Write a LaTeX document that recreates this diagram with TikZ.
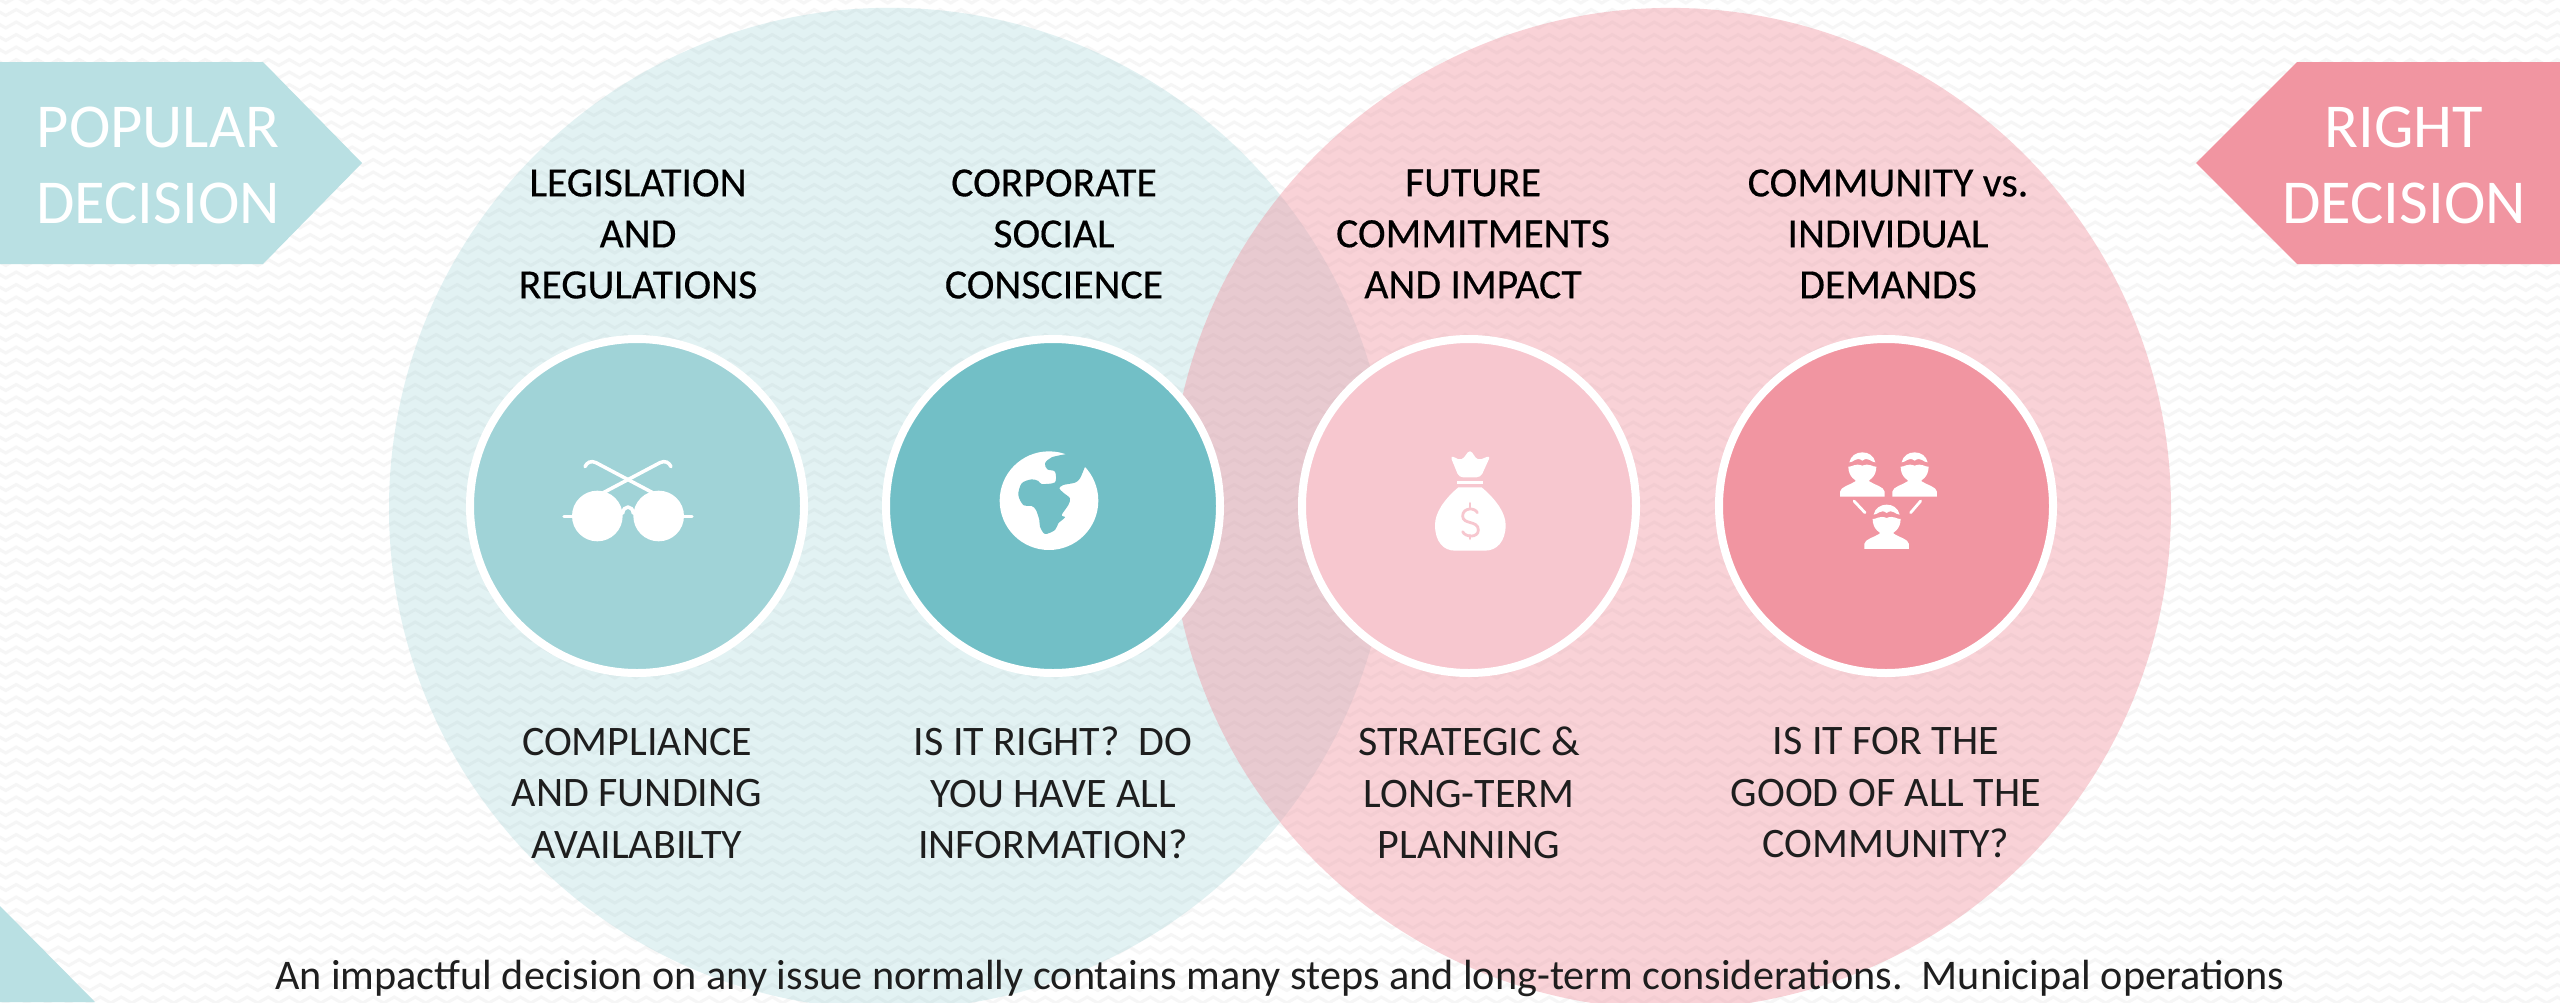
\documentclass[tikz,border=0pt]{standalone}
\usepackage{fontspec}
\setmainfont{Carlito}
\newfontfamily\headfont[FakeBold=0.35]{Carlito}
\usetikzlibrary{decorations.pathmorphing}
\definecolor{bgline}{HTML}{F6F6F6}
\definecolor{tealbase}{HTML}{72BFC6}
\definecolor{pinkbase}{HTML}{F195A1}
\definecolor{tealone}{HTML}{A0D3D7}
\definecolor{pinkone}{HTML}{F7C7CF}
\definecolor{arrowteal}{HTML}{B9E0E3}
\definecolor{bodyink}{HTML}{1E1E1E}
\tikzset{
  bigleft/.style={fill=tealbase,fill opacity=.2,draw=none},
  bigright/.style={fill=pinkbase,fill opacity=.42,draw=none},
  disc/.style={circle,draw=white,line width=8pt,minimum size=334pt,inner sep=0pt},
  headtext/.style={align=center,text=black,font=\headfont\fontsize{41.7}{51}\selectfont,inner sep=0pt},
  bodytext/.style={align=center,text=bodyink,font=\fontsize{42}{51.5}\selectfont,inner sep=0pt},
  arrowtext/.style={align=center,text=white,font=\fontsize{62.5}{76}\selectfont,inner sep=0pt},
  captext/.style={text=bodyink,font=\fontsize{42.2}{46}\selectfont,inner sep=0pt,anchor=center},
  iconbase/.style={x=.3333pt,y=-.3333pt}
}
\newcommand{\persona}[2]{%
\begin{scope}[shift={(#1,#2)},iconbase]
\fill[white] (120,230) -- (120,215) .. controls (122,200) and (150,195) .. (166,184) -- (166,172) -- (208,172) -- (208,184) .. controls (224,195) and (252,200) .. (254,215) -- (254,230) -- cycle;
\fill[white] (145,140) .. controls (155,142) and (165,128) .. (187,137) .. controls (209,128) and (219,142) .. (229,140) .. controls (229,170) and (208,186) .. (187,186) .. controls (166,186) and (145,170) .. (145,140) -- cycle;
\fill[white] (148,127) .. controls (152,108) and (168,97) .. (187,97) .. controls (206,97) and (222,108) .. (226,127) .. controls (214,128) and (205,108) .. (187,122) .. controls (169,108) and (160,128) .. (148,127) -- cycle;
\end{scope}}
\begin{document}
\begin{tikzpicture}[x=1pt,y=-1pt]
\useasboundingbox (0,0) rectangle (2560,1002);
\clip (0,0) rectangle (2560,1002);
\fill[white] (0,0) rectangle (2560,1002);
\foreach \yy in {0,12.5,...,1010}{
  \draw[bgline,line width=3pt,decorate,decoration={zigzag,segment length=21pt,amplitude=3pt}] (-10,\yy) -- (2570,\yy);
}
% big circles
\fill[bigleft] (889.7,508.5) circle[radius=500.7];
\fill[bigright] (1670.4,508.5) circle[radius=500.6];
% arrows
\fill[arrowteal] (0,62) -- (263,62) -- (362,163) -- (263,264) -- (0,264) -- cycle;
\fill[pinkbase] (2560,62) -- (2297,62) -- (2196,163) -- (2297,264) -- (2560,264) -- cycle;
\fill[arrowteal] (0,906) -- (95,1002) -- (0,1002) -- cycle;
\node[arrowtext] (ta) at (158,165) {POPULAR\\DECISION};
\node[arrowtext] (tb) at (2404,165) {RIGHT\\DECISION};
% discs
\node[disc,fill=tealone] (c1) at (637,506) {};
\node[disc,fill=tealbase] (c2) at (1053,506) {};
\node[disc,fill=pinkone] (c3) at (1469,506) {};
\node[disc,fill=pinkbase] (c4) at (1886,506) {};
% headers
\node[headtext] (h1) at (638,234) {LEGISLATION\\AND\\REGULATIONS};
\node[headtext] (h2) at (1054,234) {CORPORATE\\SOCIAL\\CONSCIENCE};
\node[headtext] (h3) at (1473,234) {FUTURE\\COMMITMENTS\\AND IMPACT};
\node[headtext] (h4) at (1888,234) {COMMUNITY vs.\\INDIVIDUAL\\DEMANDS};
% lower texts
\node[bodytext] (b1) at (637,793) {COMPLIANCE\\AND FUNDING\\AVAILABILTY};
\node[bodytext] (b2) at (1053,793) {IS IT RIGHT?\ \ DO\\YOU HAVE ALL\\INFORMATION?};
\node[bodytext] (b3) at (1469,793) {STRATEGIC \&\\LONG-TERM\\PLANNING};
\node[bodytext] (b4) at (1886,793) {IS IT FOR THE\\GOOD OF ALL THE\\COMMUNITY?};
\node[captext] (cap) at (1280,978) {An impactful decision on any issue normally contains many steps and long-term considerations.\ \ Municipal operations};
% glasses icon
\begin{scope}[shift={(540,420)},iconbase]
\fill[white] (172,288) circle[radius=76];
\fill[white] (356,288) circle[radius=76];
\draw[white,line width=3.5pt,line cap=round] (248,280) .. controls (250,255) and (278,255) .. (280,280);
\draw[white,line width=3.5pt,line cap=round] (72,289) -- (100,289);
\draw[white,line width=3.5pt,line cap=round] (428,289) -- (456,289);
\draw[white,line width=3.5pt,line cap=round] (190,218) -- (360,128) .. controls (375,120) and (388,128) .. (393,140);
\draw[white,line width=3.5pt,line cap=round] (338,218) -- (168,128) .. controls (153,120) and (140,128) .. (135,140);
\end{scope}
% globe icon
\begin{scope}[shift={(960,420)},iconbase]
\fill[white] (267,242) circle[radius=148];
\fill[tealbase] (320,102) -- (400,85) -- (420,140) -- (375,140) -- plot[smooth,tension=.5] coordinates {(375,140) (360,175) (345,188) (310,195) (298,205) (310,218) (330,235) (325,255) (305,285) (315,292) (295,310) (285,330) (255,342) (240,320) (238,300) (228,270) (215,258) (190,255) (175,225) (185,190) (215,178) (235,183) (245,192) (285,187) (285,155) (262,148) (255,130) (275,112) (320,102)} -- cycle;
\end{scope}
% money bag icon
\begin{scope}[shift={(1390,420)},iconbase]
\fill[white,rounded corners=4pt] (180,106) -- (215,122) -- (240,88) -- (263,122) -- (302,106) -- (272,172) -- (207,172) -- cycle;
\fill[white] (200,182) rectangle (280,193);
\fill[white] (205,202) -- (275,202) .. controls (320,240) and (347,280) .. (347,315) .. controls (347,365) and (320,392) .. (285,392) -- (195,392) .. controls (160,392) and (135,365) .. (135,315) .. controls (135,280) and (160,240) .. (205,202) -- cycle;
\draw[pinkone,line width=2.8pt,line cap=round] (262,278) .. controls (255,262) and (218,262) .. (218,288) .. controls (218,315) and (265,300) .. (265,330) .. controls (265,355) and (225,352) .. (218,335);
\draw[pinkone,line width=2.8pt,line cap=round] (240,250) -- (240,262);
\draw[pinkone,line width=2.8pt,line cap=round] (240,346) -- (240,356);
\end{scope}
% people icon
\persona{1800}{420}
\persona{1852.3}{420}
\persona{1824.3}{472.3}
\begin{scope}[shift={(1800,420)},iconbase]
\draw[white,line width=2.8pt,line cap=round] (162,243) -- (195,278);
\draw[white,line width=2.8pt,line cap=round] (362,243) -- (332,278);
\end{scope}
\end{tikzpicture}
\end{document}
